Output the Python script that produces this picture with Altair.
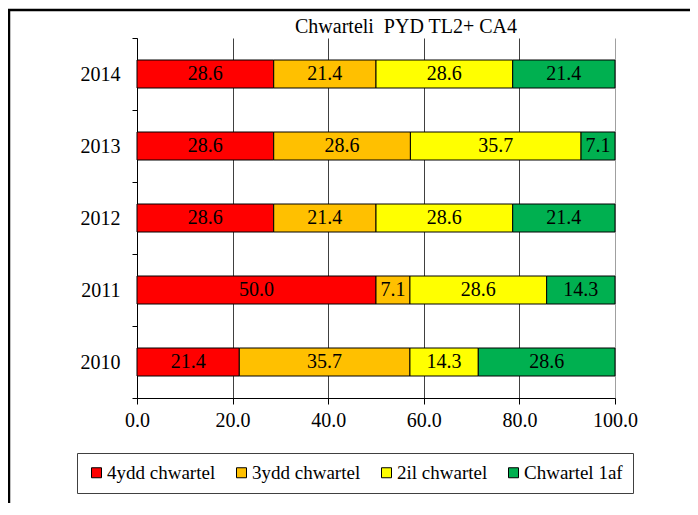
import altair as alt
import pandas as pd

years = ["2014", "2013", "2012", "2011", "2010"]
series = ["4ydd chwartel", "3ydd chwartel", "2il chwartel", "Chwartel 1af"]
colors = ["#FF0000", "#FFC000", "#FFFF00", "#00B050"]
q4 = [28.6, 28.6, 28.6, 50.0, 21.4]
q3 = [21.4, 28.6, 21.4, 7.1, 35.7]
q2 = [28.6, 35.7, 28.6, 28.6, 14.3]
q1 = [21.4, 7.1, 21.4, 14.3, 28.6]
x_ticks = [0, 20, 40, 60, 80, 100]
title_text = "Chwarteli\u00a0 PYD TL2+ CA4"

rows = []
for vals, name, k in zip([q4, q3, q2, q1], series, range(4)):
    for y, v in zip(years, vals):
        rows.append({"year": y, "series": name, "order": k, "value": v})
df = pd.DataFrame(rows)

FONT = "Liberation Serif"

base = alt.Chart(df).transform_stack(
    stack="value", groupby=["year"], as_=["x0", "x1"],
    sort=[alt.SortField("order", order="ascending")]
).transform_calculate(mid="(datum.x0 + datum.x1) / 2")

yenc = alt.Y(
    "year:N", sort=years, title=None,
    scale=alt.Scale(paddingInner=0, paddingOuter=0),
    axis=alt.Axis(tickBand="extent", tickSize=5, labelPadding=12,
                  domainColor="black", tickColor="black", labelColor="black",
                  labelFont=FONT, labelFontSize=20, grid=False),
)

bars = base.mark_bar(height=28, stroke="black", strokeWidth=1).encode(
    x=alt.X("x0:Q", title=None,
            scale=alt.Scale(domain=[0, 100], nice=False),
            axis=alt.Axis(values=x_ticks, format=".1f", tickSize=6, labelPadding=6,
                          labelFlush=False,
                          domainColor="black", tickColor="black", labelColor="black",
                          labelFont=FONT, labelFontSize=20,
                          grid=True,
                          gridColor=alt.condition(alt.datum.value == 100,
                                                  alt.value("#a0a0a0"),
                                                  alt.value("#404040")))),
    x2="x1:Q",
    y=yenc,
    color=alt.Color("series:N", sort=series,
                    scale=alt.Scale(domain=series, range=colors),
                    legend=alt.Legend(title=None, orient="none", direction="horizontal",
                                      legendX=-60, legendY=415,
                                      symbolType="square", symbolSize=100,
                                      symbolStrokeColor="black", symbolStrokeWidth=1,
                                      labelFont=FONT, labelFontSize=19, labelColor="black",
                                      labelOffset=1, columnPadding=16, padding=10,
                                      strokeColor="#404040", fillColor="white")),
    order=alt.Order("order:Q"),
)

labels = base.mark_text(font=FONT, fontSize=20, color="black").encode(
    x="mid:Q",
    y=alt.Y("year:N", sort=years),
    text=alt.Text("value:Q", format=".1f"),
)

border = alt.Chart(pd.DataFrame({"a": [0]})).mark_rect(
    fillOpacity=0, stroke="black", strokeWidth=2.5
).encode(
    x=alt.value(-128), x2=alt.value(700), y=alt.value(-28), y2=alt.value(600)
)

title = alt.Chart(pd.DataFrame({"t": [title_text]})).mark_text(
    font=FONT, fontSize=20, color="black", align="center", baseline="alphabetic"
).encode(
    text="t:N", x=alt.value(269), y=alt.value(-5)
)

chart = alt.layer(bars, labels, border, title).properties(
    width=478, height=360,
    padding={"left": 129, "top": 30, "right": 75, "bottom": 105},
    autosize=alt.AutoSizeParams(type="none"),
).configure_view(strokeWidth=0)

chart.save("out.html", embed_options={"renderer": "svg", "actions": False})
